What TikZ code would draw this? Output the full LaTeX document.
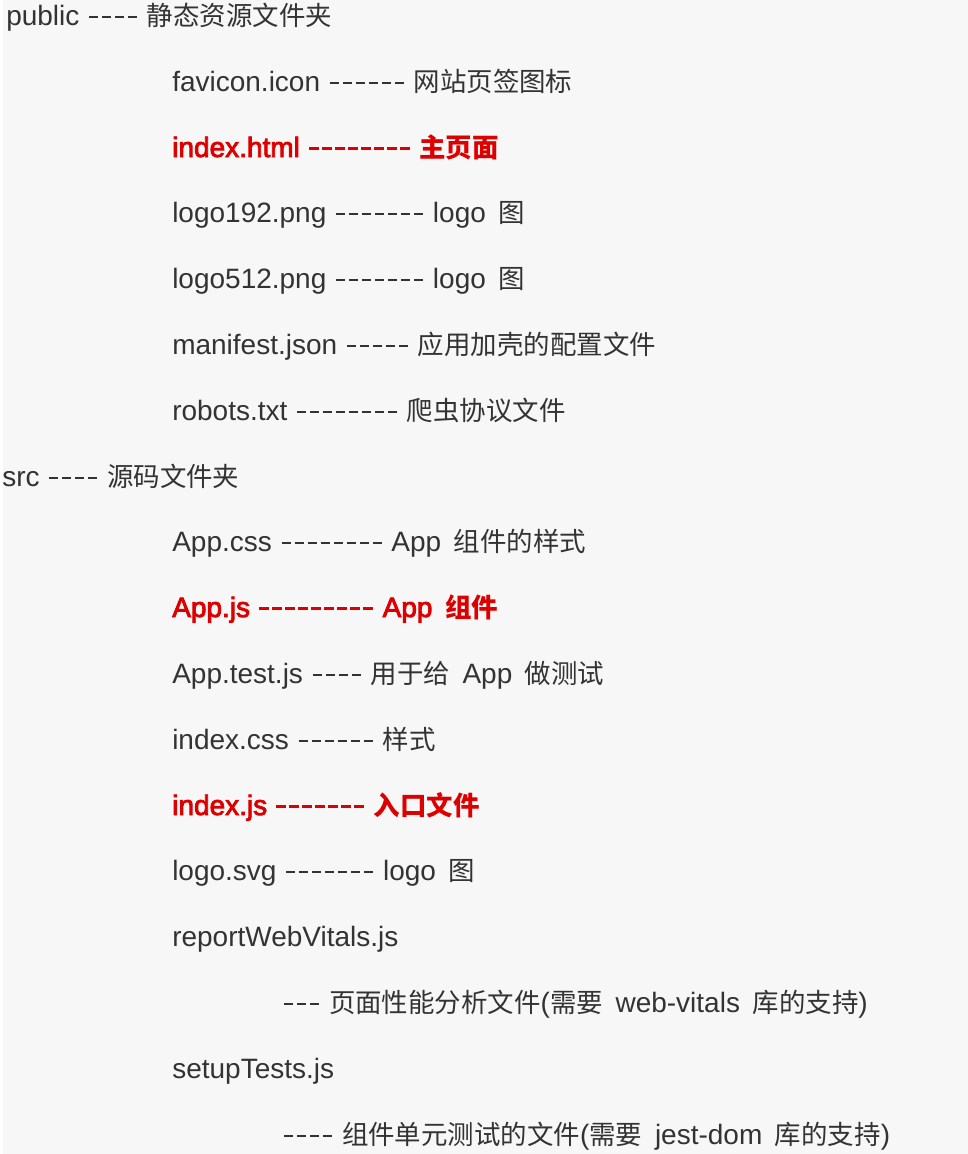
\documentclass[tikz,border=0pt]{standalone}
\usepackage{fontspec}
\setmainfont{Liberation Sans}
\newfontfamily\latb[FakeBold=3]{Liberation Sans}
\newfontfamily\cjk[Scale=0.945]{Noto Sans CJK SC}
\definecolor{txt}{HTML}{333333}
\definecolor{redt}{HTML}{DD0000}
\definecolor{bgc}{HTML}{F7F7F7}
\newcommand\myd{\makebox[9.75pt][c]{\rule[5.25pt]{6.75pt}{1.5pt}}}
\newcommand\mydb{\makebox[9.75pt][c]{\rule[5.25pt]{7.5pt}{2.25pt}}}
\newcommand\wsp{\hspace{0.45em}}
\tikzset{
  line/.style={inner sep=0pt, anchor=base west, text=txt, font=\fontsize{21}{25}\selectfont},
  hl/.style={line, text=redt, font=\latb\fontsize{21}{25}\selectfont}
}
\begin{document}
\begin{tikzpicture}[x=0.75pt,y=-0.75pt]
\useasboundingbox (0,0) rectangle (968,1154);
\fill[white] (0,0) rectangle (968,1154);
\fill[bgc] (3,0) rectangle (968,1154);
\node[line] (public) at (6,25) {public \myd\myd\myd\myd\ {\cjk 静态资源文件夹}};
\node[line] (favicon) at (172,91) {favicon.icon \myd\myd\myd\myd\myd\myd\ {\cjk 网站页签图标}};
\node[hl] (indexhtml) at (172,157) {index.html \mydb\mydb\mydb\mydb\mydb\mydb\mydb\mydb\ {\cjk\bfseries 主页面}};
\node[line] (logoa) at (172,222) {logo192.png \myd\myd\myd\myd\myd\myd\myd\ logo\wsp{\cjk 图}};
\node[line] (logob) at (172,288) {logo512.png \myd\myd\myd\myd\myd\myd\myd\ logo\wsp{\cjk 图}};
\node[line] (manifest) at (172,354) {manifest.json \myd\myd\myd\myd\myd\ {\cjk 应用加壳的配置文件}};
\node[line] (robots) at (172,420) {robots.txt \myd\myd\myd\myd\myd\myd\myd\myd\ {\cjk 爬虫协议文件}};
\node[line] (src) at (2,486) {src \myd\myd\myd\myd\ {\cjk 源码文件夹}};
\node[line] (appcss) at (172,551) {App.css \myd\myd\myd\myd\myd\myd\myd\myd\ App\wsp{\cjk 组件的样式}};
\node[hl] (appjs) at (172,617) {App.js \mydb\mydb\mydb\mydb\mydb\mydb\mydb\mydb\mydb\ App\wsp{\cjk\bfseries 组件}};
\node[line] (apptest) at (172,683) {App.test.js \myd\myd\myd\myd\ {\cjk 用于给}\wsp App\wsp{\cjk 做测试}};
\node[line] (indexcss) at (172,749) {index.css \myd\myd\myd\myd\myd\myd\ {\cjk 样式}};
\node[hl] (indexjs) at (172,815) {index.js \mydb\mydb\mydb\mydb\mydb\mydb\mydb\ {\cjk\bfseries 入口文件}};
\node[line] (logosvg) at (172,880) {logo.svg \myd\myd\myd\myd\myd\myd\myd\ logo\wsp{\cjk 图}};
\node[line] (report) at (172,946) {reportWebVitals.js};
\node[line] (reportd) at (282,1012) {\myd\myd\myd\ {\cjk 页面性能分析文件}({\cjk 需要}\wsp web-vitals\wsp{\cjk 库的支持})};
\node[line] (setup) at (172,1078) {setupTests.js};
\node[line] (setupd) at (282,1144) {\myd\myd\myd\myd\ {\cjk 组件单元测试的文件}({\cjk 需要}\wsp jest-dom\wsp{\cjk 库的支持})};
\end{tikzpicture}
\end{document}
